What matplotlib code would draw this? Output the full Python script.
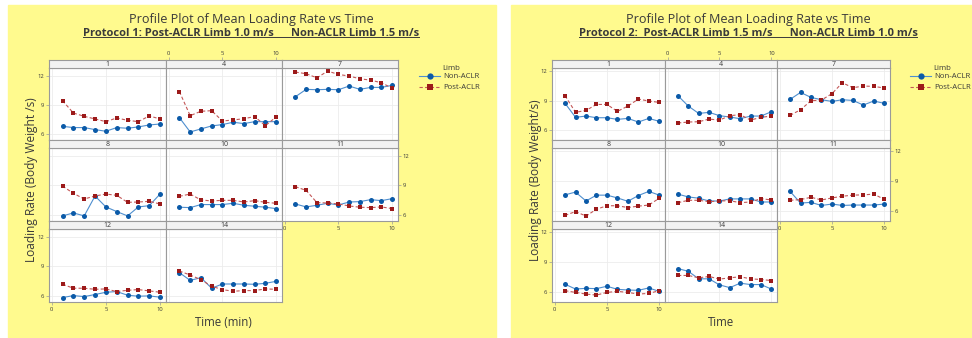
import numpy as np
import matplotlib.pyplot as plt
from matplotlib.patches import Rectangle
from matplotlib.lines import Line2D

plt.rcParams['font.family'] = ['Open Sans', 'DejaVu Sans']

W, H = 972, 338
time = np.arange(1, 11)
panels = ['1', '4', '7', '8', '10', '11', '12', '14']

# Protocol 1, one row per panel (1, 4, 7, 8, 10, 11, 12, 14)
p1_non = [
    [6.79, 6.66, 6.66, 6.45, 6.28, 6.66, 6.59, 6.73, 6.93, 7.03],
    [7.68, 6.21, 6.52, 6.83, 6.97, 7.21, 7.07, 7.27, 7.27, 7.27],
    [9.84, 10.60, 10.56, 10.60, 10.56, 10.94, 10.60, 10.80, 10.80, 11.01],
    [5.90, 6.20, 5.90, 7.92, 6.81, 6.34, 5.90, 6.81, 6.94, 8.12],
    [6.78, 6.74, 7.05, 7.05, 7.05, 7.18, 6.98, 6.88, 6.78, 6.64],
    [7.11, 6.81, 6.98, 7.18, 7.01, 7.31, 7.35, 7.55, 7.45, 7.65],
    [5.83, 6.03, 5.93, 6.14, 6.37, 6.44, 6.07, 5.97, 6.00, 5.87],
    [8.36, 7.58, 7.85, 6.78, 7.21, 7.21, 7.21, 7.18, 7.28, 7.48],
]
p1_post = [
    [9.43, 8.16, 7.82, 7.55, 7.27, 7.65, 7.41, 7.27, 7.86, 7.55],
    [10.36, 7.89, 8.34, 8.40, 7.34, 7.44, 7.58, 7.79, 6.86, 7.75],
    [12.38, 12.21, 11.79, 12.48, 12.14, 11.97, 11.69, 11.55, 11.28, 10.73],
    [8.93, 8.19, 7.62, 7.92, 8.12, 7.99, 7.28, 7.31, 7.38, 7.11],
    [7.89, 8.12, 7.52, 7.42, 7.48, 7.48, 7.31, 7.45, 7.28, 7.18],
    [8.87, 8.49, 7.25, 7.21, 7.11, 6.91, 6.78, 6.74, 6.81, 6.64],
    [7.18, 6.78, 6.78, 6.67, 6.71, 6.44, 6.57, 6.64, 6.51, 6.37],
    [8.53, 8.12, 7.65, 6.98, 6.64, 6.47, 6.54, 6.54, 6.71, 6.67],
]

# Protocol 2
p2_non = [
    [8.73, 7.30, 7.43, 7.26, 7.26, 7.09, 7.19, 6.82, 7.19, 6.89],
    [9.51, 8.45, 7.70, 7.81, 7.47, 7.33, 7.16, 7.43, 7.43, 7.87],
    [9.14, 9.85, 9.34, 9.10, 8.93, 9.10, 9.03, 8.56, 8.97, 8.73],
    [7.62, 7.90, 7.00, 7.59, 7.59, 7.31, 6.97, 7.55, 7.97, 7.59],
    [7.69, 7.41, 7.28, 7.00, 7.00, 7.21, 7.21, 7.21, 6.90, 6.90],
    [7.97, 6.79, 6.86, 6.55, 6.69, 6.55, 6.59, 6.59, 6.59, 6.69],
    [6.77, 6.29, 6.36, 6.33, 6.57, 6.26, 6.19, 6.16, 6.40, 6.05],
    [8.35, 8.08, 7.32, 7.32, 6.71, 6.43, 6.88, 6.74, 6.74, 6.29],
]
p2_post = [
    [9.51, 7.81, 8.01, 8.62, 8.62, 7.91, 8.45, 9.17, 8.97, 8.83],
    [6.72, 6.82, 6.85, 7.12, 7.02, 7.47, 7.57, 7.02, 7.30, 7.43],
    [7.50, 8.08, 9.00, 9.07, 9.72, 10.84, 10.33, 10.50, 10.47, 10.30],
    [5.55, 5.93, 5.48, 6.17, 6.52, 6.52, 6.34, 6.48, 6.59, 7.28],
    [6.83, 7.07, 7.07, 6.93, 7.00, 7.03, 6.83, 6.90, 7.24, 7.10],
    [7.07, 7.14, 7.38, 7.10, 7.31, 7.48, 7.59, 7.62, 7.69, 7.17],
    [6.12, 5.95, 5.78, 5.68, 5.95, 6.05, 5.95, 5.78, 5.85, 6.12],
    [7.66, 7.66, 7.42, 7.56, 7.29, 7.42, 7.53, 7.32, 7.25, 7.15],
]

BLUE = '#0b5aa8'
BLUE_LINE = '#4f8fcf'
RED = '#9c1a1a'
RED_LINE = '#c45858'
YELLOW = '#fffa8e'
GRID_C = '#9a9a9a'
TXT = '#3a3a3a'


def box(x0, y0, x1, y1):
    # pixel box (top-left origin) -> figure rect
    return [x0 / W, 1 - y1 / H, (x1 - x0) / W, (y1 - y0) / H]


fig = plt.figure(figsize=(W / 100, H / 100), dpi=100, facecolor='white')
fig.patches.append(Rectangle((8 / W, 0), (496 - 8) / W, 1 - 5 / H,
                             transform=fig.transFigure, color=YELLOW, zorder=-5))
fig.patches.append(Rectangle((511 / W, 0), (W - 511) / W, 1 - 5 / H,
                             transform=fig.transFigure, color=YELLOW, zorder=-5))


def draw_protocol(cols, ylim, non, post, title, subtitle, ylabel, xlabel, cx, leg_x):
    rows = [(60, 68, 140), (140, 148, 221), (221, 229, 302)]
    n = 0
    for r, (st, pt, pb) in enumerate(rows):
        for c in range(3):
            if r == 2 and c == 2:
                continue
            x0, x1 = cols[c], cols[c + 1]
            ax = fig.add_axes(box(x0, pt, x1, pb))
            ax.set_facecolor('white')
            ax.set_xlim(-0.25, 10.55)
            ax.set_ylim(*ylim)
            ax.set_xticks([0, 5, 10])
            ax.set_yticks([6, 9, 12])
            ax.grid(True, color='#ececec', lw=0.6)
            ax.set_axisbelow(True)
            ax.plot(time, non[n], '-o', color=BLUE_LINE, mfc=BLUE, lw=0.8, ms=3.6,
                    markeredgewidth=0, zorder=3)
            ax.plot(time, post[n], '--s', color=RED_LINE, mfc=RED, lw=0.8, ms=3.4,
                    dashes=(3, 2), markeredgewidth=0, zorder=3)
            for s in ax.spines.values():
                s.set_color(GRID_C)
                s.set_linewidth(0.8)
            ax.tick_params(length=2, width=0.5, colors=GRID_C, labelsize=4.2,
                           labelcolor=TXT, pad=1.5,
                           left=False, labelleft=False, bottom=False, labelbottom=False)
            if c == 0 and r in (0, 2):
                ax.tick_params(left=True, labelleft=True)
            if c == 2 and r == 1:
                ax.tick_params(right=True, labelright=True)
            if (c == 0 and r == 2) or (c == 2 and r == 1):
                ax.tick_params(bottom=True, labelbottom=True)

            sax = fig.add_axes(box(x0, st, x1, pt))
            sax.set_facecolor('#f2f2f2')
            sax.set_xlim(-0.25, 10.55)
            sax.set_yticks([])
            sax.set_xticks([0, 5, 10])
            for s in sax.spines.values():
                s.set_color(GRID_C)
                s.set_linewidth(0.8)
            sax.tick_params(bottom=False, labelbottom=False, length=2, width=0.5,
                            colors=GRID_C, labelsize=4.2, labelcolor=TXT, pad=1)
            if r == 0 and c == 1:
                sax.tick_params(top=True, labeltop=True)
            sax.text(0.5, 0.45, panels[n], transform=sax.transAxes, ha='center',
                     va='center', fontsize=5, color=TXT)
            n += 1

    fig.text(cx / W, 1 - 20 / H, title, ha='center', va='center',
             fontsize=9.1, color=TXT)
    st_txt = fig.text(cx / W, 1 - 33 / H, subtitle, ha='center', va='center',
                      fontsize=8.0, fontweight='bold', color=TXT)
    fig.canvas.draw()
    bb = st_txt.get_window_extent().transformed(fig.transFigure.inverted())
    fig.add_artist(Line2D([bb.x0, bb.x1], [bb.y0 + 0.004, bb.y0 + 0.004],
                          transform=fig.transFigure, color=TXT, lw=0.7))

    fig.text((cols[0] - 17) / W, 1 - 180 / H, ylabel, rotation=90, ha='center',
             va='center', fontsize=8.6, color=TXT)
    fig.text((cols[0] + cols[3]) / 2 / W, 1 - 322 / H, xlabel, ha='center',
             va='center', fontsize=8.3, color=TXT)

    handles = [Line2D([], [], color=BLUE_LINE, mfc=BLUE, marker='o', lw=0.8, ms=4.5,
                      markeredgewidth=0),
               Line2D([], [], color=RED_LINE, mfc=RED, marker='s', lw=0.8, ms=4.2,
                      ls='--', dashes=(3, 2), markeredgewidth=0)]
    fig.legend(handles, ['Non-ACLR', 'Post-ACLR'],
               loc='upper left', bbox_to_anchor=(leg_x / W, 1 - 73 / H),
               frameon=False, fontsize=5.6,
               handlelength=2.7, handletextpad=0.4, labelspacing=0.45,
               borderpad=0, borderaxespad=0, labelcolor=TXT)
    fig.text((leg_x + 23) / W, 1 - 68 / H, 'Limb', ha='left', va='center',
             fontsize=5.6, color=TXT)


draw_protocol([49, 166, 282, 398], (5.38, 12.8), p1_non, p1_post,
              'Profile Plot of Mean Loading Rate vs Time',
              'Protocol 1: Post-ACLR Limb 1.0 m/s      Non-ACLR Limb 1.5 m/s',
              'Loading Rate (Body Weight /s)', 'Time (min)', 251, 419)
draw_protocol([552, 665, 777, 890], (4.98, 12.35), p2_non, p2_post,
              'Profile Plot of Mean Loading Rate vs Time',
              'Protocol 2:  Post-ACLR Limb 1.5 m/s      Non-ACLR Limb 1.0 m/s',
              'Loading Rate (Body Weight/s)', 'Time', 748, 910)

fig.savefig('out.png', dpi=100, facecolor='white')
